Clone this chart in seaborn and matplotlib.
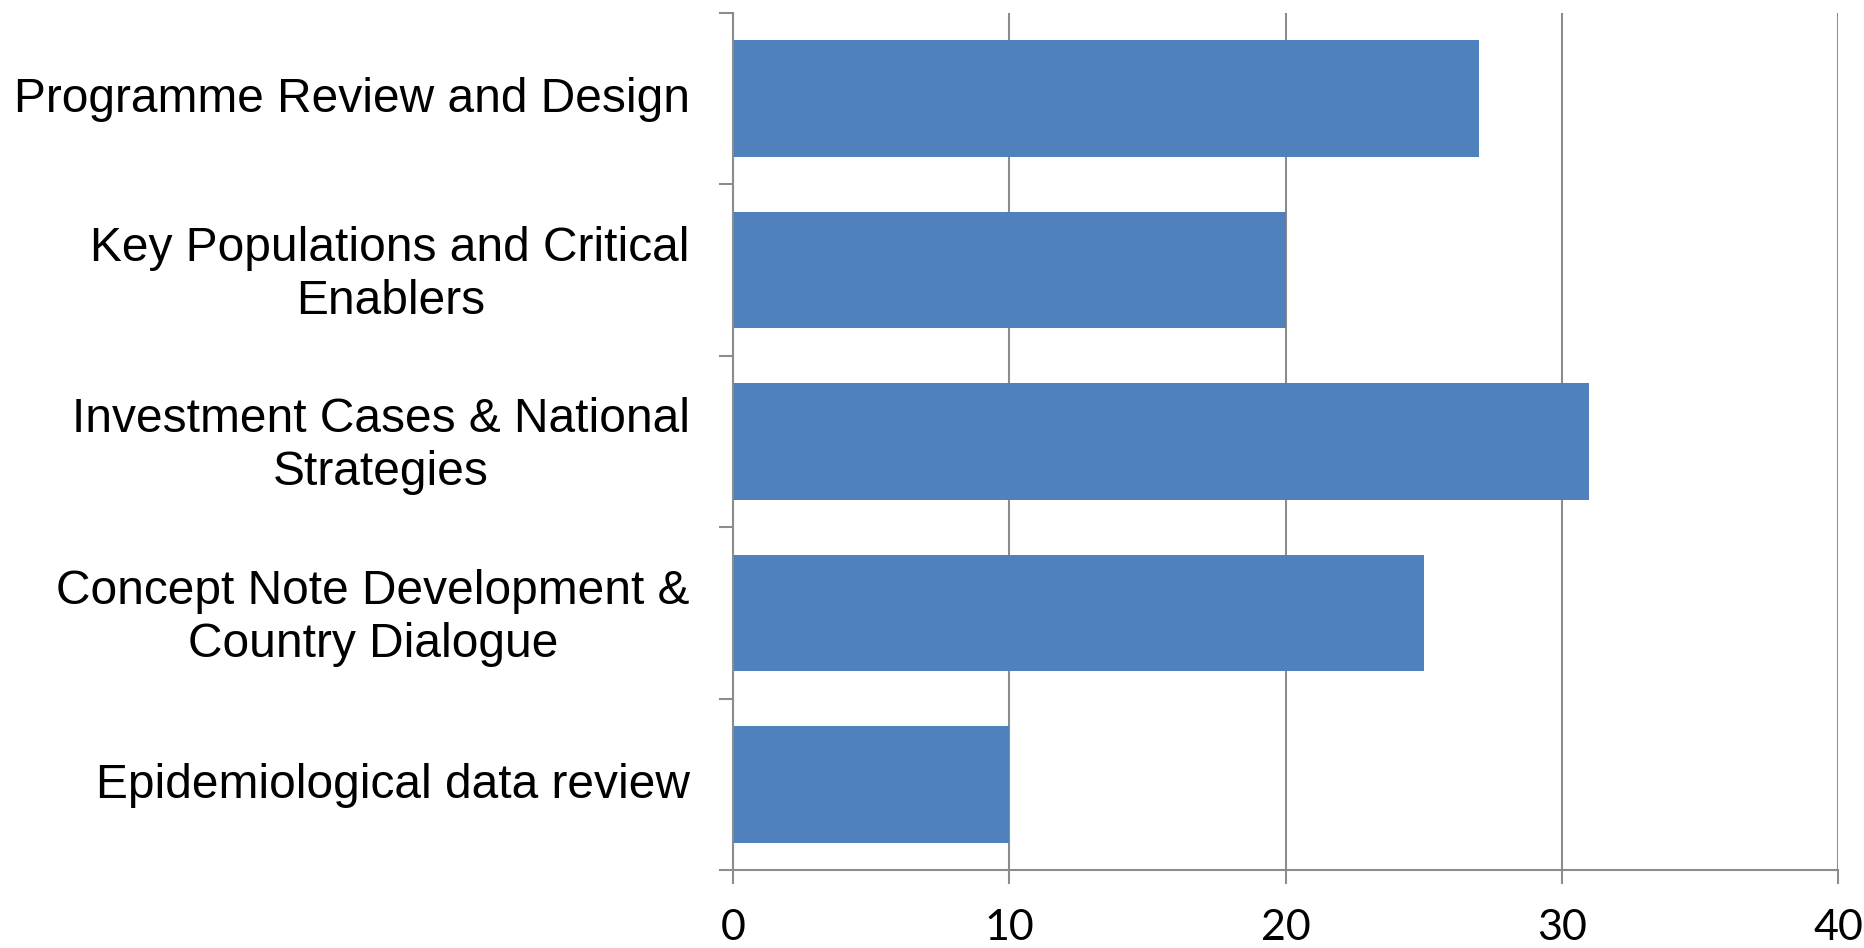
import matplotlib.pyplot as plt
import matplotlib.transforms as mtransforms
import seaborn as sns

categories = ["Programme Review and Design",
              "Key Populations and Critical\nEnablers",
              "Investment Cases & National\nStrategies",
              "Concept Note Development &\nCountry Dialogue",
              "Epidemiological data review"]
values = [27, 20, 31, 25, 10]
xticks = [0, 10, 20, 30, 40]

sns.set_style("white")
grey = "#8c8c8c"

fig = plt.figure(figsize=(18.64, 9.48), dpi=100)
ax = fig.add_axes([733 / 1864, 1 - 870 / 948, (1838 - 733) / 1864, (870 - 13) / 948])

sns.barplot(x=values, y=categories, orient="h", color="#4F81BD", saturation=1,
            width=0.68, edgecolor="none", ax=ax)

ax.set_xlim(0, 40)
ax.set_ylim(4.5, -0.5)
ax.set_xticks(xticks)
ax.set_xticklabels([str(t) for t in xticks], family="Lato", fontsize=31, color="black")
ax.set_axisbelow(True)
ax.grid(axis="x", color=grey, lw=1.5)
ax.grid(axis="y", visible=False)

# category boundary ticks on the left
ax.set_yticks([i - 0.5 for i in range(len(categories) + 1)], minor=True)
ax.tick_params(axis="y", which="minor", left=True, length=10, width=1.5, color=grey)
ax.tick_params(axis="y", which="major", left=False, length=0, pad=31)
ax.tick_params(axis="x", which="major", bottom=True, length=10, width=1.5, color=grey, pad=18)
shift = mtransforms.ScaledTranslation(0, 4 / 100, fig.dpi_scale_trans)
for lbl in ax.get_yticklabels():
    lbl.set_family("Liberation Sans")
    lbl.set_fontsize(34.5)
    lbl.set_color("black")
    lbl.set_multialignment("center")
    lbl.set_linespacing(1.22)
    lbl.set_transform(lbl.get_transform() + shift)

for s in ["top", "right"]:
    ax.spines[s].set_visible(False)
for s in ["left", "bottom"]:
    ax.spines[s].set_color(grey)
    ax.spines[s].set_linewidth(1.5)

ax.set_xlabel("")
ax.set_ylabel("")
fig.savefig("out.png", dpi=100)
